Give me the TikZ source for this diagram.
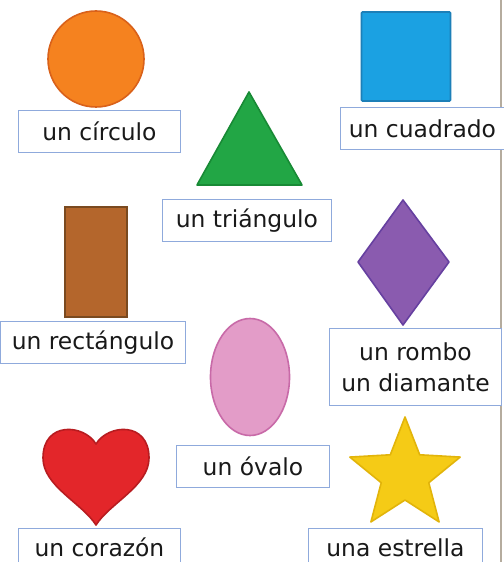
\documentclass[tikz,border=0pt]{standalone}
\usepackage{fontspec}
\setmainfont{DejaVu Sans}
\usetikzlibrary{shapes.geometric}
\definecolor{boxc}{HTML}{8FAADC}
\definecolor{edgec}{HTML}{B5AC9E}
\definecolor{orf}{HTML}{F5821F}\definecolor{ord}{HTML}{D9611A}
\definecolor{blf}{HTML}{1BA1E2}\definecolor{bld}{HTML}{1C7FB8}
\definecolor{grf}{HTML}{22A645}\definecolor{grd}{HTML}{188A35}
\definecolor{brf}{HTML}{B4662C}\definecolor{brd}{HTML}{7A4A20}
\definecolor{puf}{HTML}{8A5BAF}\definecolor{pud}{HTML}{6640A0}
\definecolor{pkf}{HTML}{E39CC8}\definecolor{pkd}{HTML}{C86AA8}
\definecolor{rdf}{HTML}{E3262A}\definecolor{rdd}{HTML}{B81C20}
\definecolor{yef}{HTML}{F5CB16}\definecolor{yed}{HTML}{E2B40A}
\tikzset{
  lbl/.style={draw=boxc, line width=0.9bp, fill=white, inner sep=0pt, text=black!90,
    font=\fontsize{23.5}{28}\selectfont, align=center, anchor=north west},
  shp/.style={line width=1.6bp}
}
\begin{document}
\begin{tikzpicture}[x=1bp,y=-1bp]
\useasboundingbox (0,0) rectangle (504,562);
\fill[white] (0,0) rectangle (504,562);
% right edge line
\draw[edgec, line width=1.2bp] (501,0) -- (501,562);
% circle
\node[shp, circle, draw=ord, fill=orf, minimum size=96bp, inner sep=0pt] (circ) at (96,59) {};
\node[lbl, minimum width=162bp, minimum height=42bp] (lcirc) at (18,110) {un círculo};
% square
\node[shp, rectangle, draw=bld, fill=blf, minimum width=89bp, minimum height=89bp, inner sep=0pt, rounded corners=1bp] (sq) at (406,56.5) {};
\node[lbl, minimum width=164bp, minimum height=42bp] (lsq) at (340,107) {un cuadrado};
% triangle
\filldraw[shp, draw=grd, fill=grf, line join=round] (249,92) -- (302,185) -- (197,185) -- cycle;
\node[lbl, minimum width=169bp, minimum height=42bp] (ltri) at (162,199) {un triángulo};
% rectangle
\node[shp, rectangle, draw=brd, fill=brf, minimum width=62bp, minimum height=110bp, inner sep=0pt] (rect) at (96,262) {};
\node[lbl, minimum width=185bp, minimum height=42bp] (lrect) at (0,321) {un rectángulo};
% diamond
\filldraw[shp, draw=pud, fill=puf, line join=round] (403,200) -- (449,262) -- (403,325) -- (358,262) -- cycle;
\node[lbl, minimum width=172bp, minimum height=77bp, font=\fontsize{23.5}{31}\selectfont] (ldia) at (329,328) {un rombo\\un diamante};
% oval
\node[shp, ellipse, draw=pkd, fill=pkf, minimum width=79bp, minimum height=117bp, inner sep=0pt] (oval) at (250,377) {};
\node[lbl, minimum width=153bp, minimum height=42bp] (loval) at (176,445) {un óvalo};
% heart
\filldraw[shp, draw=rdd, fill=rdf, line join=round]
  (96,444) .. controls (84,424) and (43,421) .. (43,458)
  .. controls (43,486) and (82,503) .. (96,525)
  .. controls (110,503) and (149,486) .. (149,458)
  .. controls (149,421) and (108,424) .. (96,444) -- cycle;
\node[lbl, minimum width=162bp, minimum height=38bp] (lheart) at (18,528) {un corazón};
% star
\filldraw[shp, draw=yed, fill=yef, line join=round]
  (405,417)
  \foreach \k in {1,...,9}{ -- ({405+ifthenelse(mod(\k,2)==0,58,25)*sin(36*\k)},{475-ifthenelse(mod(\k,2)==0,58,25)*cos(36*\k)}) } -- cycle;
\node[lbl, minimum width=174bp, minimum height=38bp] (lstar) at (308,528) {una estrella};
\end{tikzpicture}
\end{document}
